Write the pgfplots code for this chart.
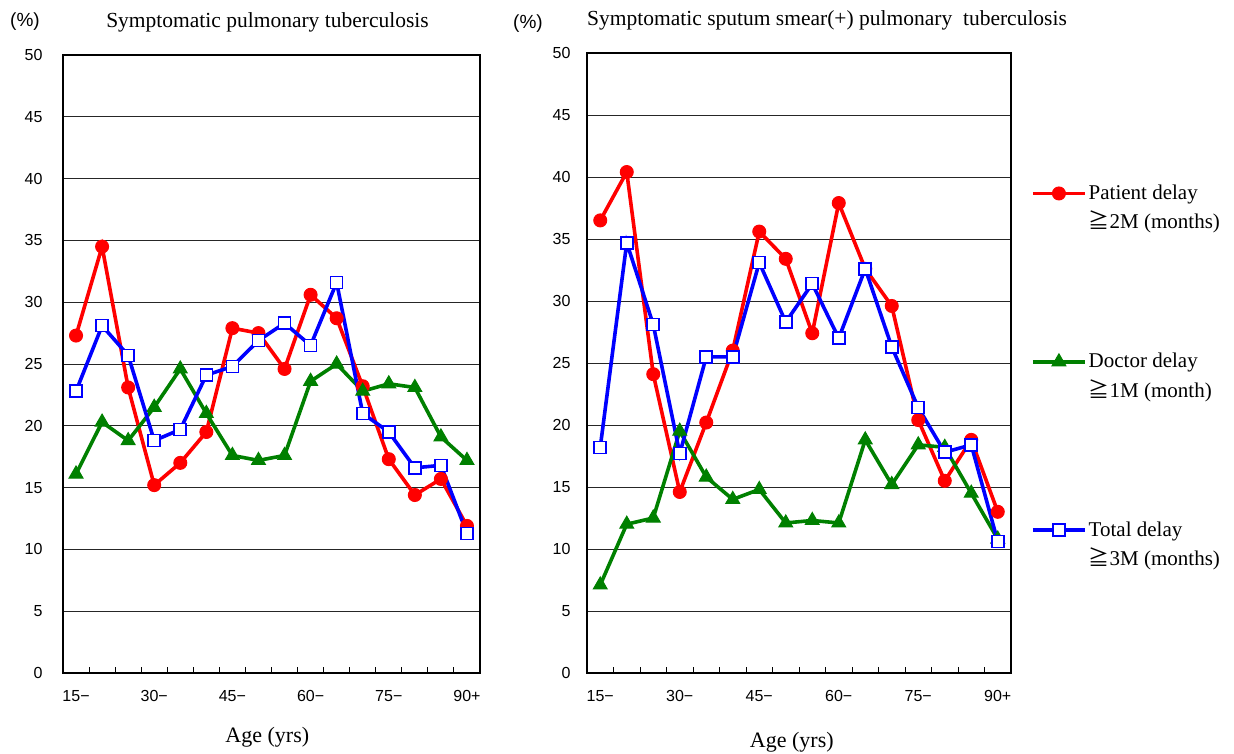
\documentclass[border=0pt]{standalone}
\usepackage{fontspec}
\setmainfont{Liberation Serif}
\newfontfamily\tickfont{Liberation Sans}
\newfontfamily\cjk{Noto Sans CJK JP}
\usepackage{pgfplots}
\pgfplotsset{compat=1.18}

\definecolor{cred}{RGB}{255,0,0}
\definecolor{cgreen}{RGB}{0,128,0}
\definecolor{cblue}{RGB}{0,0,255}

\newcommand\tickfs{\tickfont\fontsize{16}{17}\selectfont}

\pgfplotsset{
  delaybox/.style={
    scale only axis,
    anchor=south west,
    height=618pt,
    xmin=-0.5, xmax=15.5,
    ymin=0, ymax=50,
    ytick={0,5,...,50},
    xtick={0,3,6,9,12,15},
    xticklabels={15−,30−,45−,60−,75−,90+},
    minor xtick={0.5,1.5,...,14.5},
    major tick length=0pt,
    minor tick length=6pt,
    tick align=inside,
    xtick pos=bottom, ytick pos=left,
    minor tick style={black, line width=1pt},
    ymajorgrids,
    grid style={black!85, line width=0.9pt},
    axis line style={black, line width=2.2pt},
    /pgf/number format/assume math mode=true,
    yticklabel style={font=\tickfs},
    xticklabel style={font=\tickfs, yshift=-14pt},
    every axis plot/.append style={line width=3.6pt},
  },
  pat/.style={cred, mark=*, mark size=6.5pt, mark options={solid, fill=cred, line width=1pt}},
  doc/.style={cgreen, mark=triangle*, mark size=8pt, mark options={solid, fill=cgreen, line width=1pt}},
  tot/.style={cblue, mark=square*, mark size=6pt, mark options={solid, fill=white, draw=cblue, line width=1.6pt}},
}

\begin{document}
\begin{tikzpicture}[x=1pt,y=1pt]
\path[use as bounding box] (0,0) rectangle (1234,753);

% left panel: symptomatic pulmonary TB
\begin{axis}[delaybox, at={(63pt,80pt)}, width=417pt,
  yticklabel style={xshift=-17pt},
  xlabel={Age (yrs)},
  xlabel style={font=\fontsize{22}{24}\selectfont, at={(axis description cs:0.49,0)}, anchor=center, yshift=-64pt},
]
\addplot[pat] coordinates {(0,27.3) (1,34.5) (2,23.1) (3,15.2) (4,17.0) (5,19.5) (6,27.9) (7,27.5)
  (8,24.6) (9,30.6) (10,28.7) (11,23.2) (12,17.3) (13,14.4) (14,15.7) (15,11.9)};
\addplot[doc] coordinates {(0,16.1) (1,20.3) (2,18.8) (3,21.5) (4,24.6) (5,21.0) (6,17.6) (7,17.2)
  (8,17.6) (9,23.6) (10,25.0) (11,22.8) (12,23.4) (13,23.1) (14,19.1) (15,17.2)};
\addplot[tot] coordinates {(0,22.8) (1,28.1) (2,25.7) (3,18.8) (4,19.7) (5,24.1) (6,24.8) (7,26.9)
  (8,28.3) (9,26.5) (10,31.6) (11,21.0) (12,19.5) (13,16.6) (14,16.8) (15,11.3)};
\end{axis}

% right panel: sputum smear positive
\begin{axis}[delaybox, at={(587pt,80pt)}, width=424pt, height=620pt,
  yticklabel style={xshift=-13pt},
  xlabel={Age (yrs)},
  xlabel style={font=\fontsize{22}{24}\selectfont, at={(axis description cs:0.483,0)}, anchor=center, yshift=-69pt},
  legend style={draw=none, fill=none, at={(1.047,0.791)}, anchor=north west,
    font=\fontsize{21}{29}\selectfont, row sep=119pt, inner sep=0pt},
  legend cell align=left,
  legend image code/.code={\draw[mark repeat=2, mark phase=2, yshift=14pt]
    plot coordinates {(0pt,0pt) (26pt,0pt) (52pt,0pt)};},
]
\addplot[pat] coordinates {(0,36.5) (1,40.4) (2,24.1) (3,14.6) (4,20.2) (5,26.0) (6,35.6) (7,33.4)
  (8,27.4) (9,37.9) (10,32.6) (11,29.6) (12,20.4) (13,15.5) (14,18.8) (15,13.0)};
\addlegendentry{\shortstack[l]{Patient delay\\[4pt]{\cjk ≧}2M (months)}}
\addplot[doc] coordinates {(0,7.1) (1,12.0) (2,12.5) (3,19.5) (4,15.8) (5,14.0) (6,14.8) (7,12.1)
  (8,12.3) (9,12.1) (10,18.8) (11,15.2) (12,18.4) (13,18.2) (14,14.5) (15,10.8)};
\addlegendentry{\shortstack[l]{Doctor delay\\[4pt]{\cjk ≧}1M (month)}}
\addplot[tot] coordinates {(0,18.2) (1,34.7) (2,28.1) (3,17.7) (4,25.5) (5,25.5) (6,33.1) (7,28.3)
  (8,31.4) (9,27.0) (10,32.6) (11,26.3) (12,21.4) (13,17.8) (14,18.4) (15,10.6)};
\addlegendentry{\shortstack[l]{Total delay\\[4pt]{\cjk ≧}3M (months)}}
\end{axis}

% titles and unit marks
\node[font=\fontsize{21.5}{24}\selectfont] at (267.5,731) {Symptomatic pulmonary tuberculosis};
\node[font=\fontsize{21.5}{24}\selectfont, anchor=west, inner sep=0pt] at (587,733) {Symptomatic sputum smear(+) pulmonary\ \ tuberculosis};
\node[font=\tickfont\fontsize{19}{20}\selectfont] at (25,731) {(\%)};
\node[font=\tickfont\fontsize{19}{20}\selectfont] at (528,729) {(\%)};
\end{tikzpicture}
\end{document}
